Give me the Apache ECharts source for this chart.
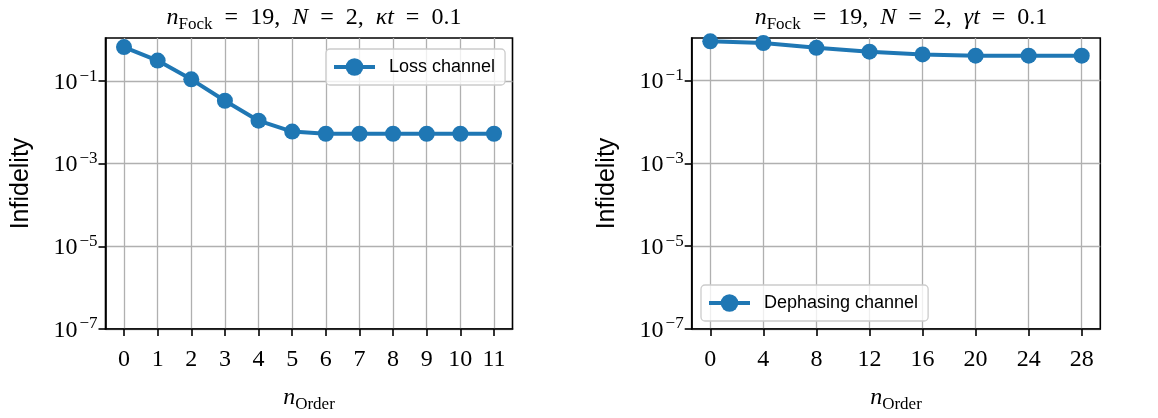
<!DOCTYPE html>
<html>
<head>
<meta charset="utf-8">
<script src="https://cdn.jsdelivr.net/npm/echarts@6/dist/echarts.min.js"></script>
<style>
  html, body { margin: 0; padding: 0; background: #fff; }
  #chart { width: 1158px; height: 418px; }
</style>
</head>
<body>
<div id="chart"></div>
<script>
// 左图：损耗通道
const lossOrders = [0, 1, 2, 3, 4, 5, 6, 7, 8, 9, 10, 11]
const lossInfidelity = [0.665, 0.313, 0.11, 0.0333, 0.011, 0.0060, 0.0053, 0.0053, 0.0053, 0.0053, 0.0053, 0.0053]
// 右图：退相位通道
const dephOrders = [0, 4, 8, 12, 16, 20, 24, 28]
const dephInfidelity = [0.89, 0.81, 0.62, 0.50, 0.43, 0.40, 0.40, 0.40]
// 坐标轴刻度
const lossTicks = [0, 1, 2, 3, 4, 5, 6, 7, 8, 9, 10, 11]
const dephTicks = [0, 4, 8, 12, 16, 20, 24, 28]
const yTicks = [1e-7, 1e-5, 1e-3, 1e-1]
const legendNames = ['Loss channel', 'Dephasing channel']

const blue = '#1f77b4'
const serif = 'Liberation Serif'
const sans = 'Liberation Sans'

const chart = echarts.init(document.getElementById('chart'))

// 数学公式样式（上下标）
const mathRich = {
  i: { fontFamily: serif, fontStyle: 'italic', fontWeight: 'normal', fontSize: 24, lineHeight: 30, verticalAlign: 'middle', color: '#000' },
  r: { fontFamily: serif, fontWeight: 'normal', fontSize: 24, lineHeight: 30, verticalAlign: 'middle', color: '#000' },
  sub: { fontFamily: serif, fontWeight: 'normal', fontSize: 17, lineHeight: 15, verticalAlign: 'bottom', color: '#000' }
}

const eq = '\u2002=\u2002'
const xName = '{i|n}{sub|Order}'

const makeX = (idx, min, max, ticks) => ({
  type: 'value',
  gridIndex: idx,
  min,
  max,
  name: xName,
  nameLocation: 'middle',
  nameGap: 54,
  nameTextStyle: { rich: mathRich },
  axisLine: { show: true, onZero: false, lineStyle: { color: '#000', width: 1.6 } },
  axisTick: { show: true, inside: false, length: 7, customValues: ticks, lineStyle: { color: '#000', width: 1.6 } },
  axisLabel: {
    customValues: ticks,
    margin: 19,
    fontFamily: serif,
    fontSize: 24,
    color: '#000'
  },
  splitLine: { show: true, lineStyle: { color: '#b0b0b0', width: 1.3 } }
})

const makeY = (idx, max) => ({
  type: 'log',
  gridIndex: idx,
  min: 1e-7,
  max,
  interval: 2,
  name: 'Infidelity',
  nameLocation: 'middle',
  nameGap: 72,
  nameTextStyle: { fontFamily: sans, fontSize: 25, color: '#000' },
  axisLine: { show: true, onZero: false, lineStyle: { color: '#000', width: 1.6 } },
  axisTick: { show: true, inside: false, length: 7, customValues: yTicks, lineStyle: { color: '#000', width: 1.6 } },
  axisLabel: {
    customValues: yTicks,
    margin: 8,
    padding: [3, 0, 0, 0],
    formatter: (v) => {
      const e = Math.round(Math.log10(v))
      return '{b|10}{s|' + (e < 0 ? '\u2212' : '') + Math.abs(e) + '}'
    },
    rich: {
      b: { fontFamily: serif, fontSize: 24, lineHeight: 30, verticalAlign: 'middle', color: '#000' },
      s: { fontFamily: serif, fontSize: 17, lineHeight: 14, verticalAlign: 'top', color: '#000', padding: [0, 0, 0, 2] }
    }
  },
  splitLine: { show: true, lineStyle: { color: '#b0b0b0', width: 1.3 } }
})

const makeLegend = (name, left, top) => ({
  data: [name],
  left,
  top,
  orient: 'vertical',
  padding: [9, 10, 9, 6],
  itemWidth: 41,
  itemHeight: 22,
  lineStyle: { width: 4 },
  backgroundColor: 'rgba(255,255,255,0.8)',
  borderColor: '#cccccc',
  borderWidth: 1.3,
  borderRadius: 4,
  textStyle: { fontFamily: sans, fontSize: 18, color: '#000', padding: [0, 0, 0, 9] }
})

const makeSeries = (name, idx, xs, ys) => ({
  name,
  type: 'line',
  xAxisIndex: idx,
  yAxisIndex: idx,
  data: xs.map((x, i) => [x, ys[i]]),
  symbol: 'circle',
  symbolSize: 16,
  lineStyle: { color: blue, width: 4 },
  itemStyle: { color: blue }
})

const option = {
  animation: false,
  backgroundColor: '#fff',
  title: [
    {
      text: '{i|n}{sub|Fock}{r|' + eq + '19,  }{i|N}{r|' + eq + '2,  }{i|\u03bat}{r|' + eq + '0.1}',
      left: 309,
      top: -2,
      textAlign: 'center',
      textStyle: { fontWeight: 'normal', rich: mathRich }
    },
    {
      text: '{i|n}{sub|Fock}{r|' + eq + '19,  }{i|N}{r|' + eq + '2,  }{i|\u03b3t}{r|' + eq + '0.1}',
      left: 896,
      top: -2,
      textAlign: 'center',
      textStyle: { fontWeight: 'normal', rich: mathRich }
    }
  ],
  legend: [
    makeLegend(legendNames[0], 326, 49),
    makeLegend(legendNames[1], 701, 285)
  ],
  grid: [
    { left: 105.5, top: 38, width: 407, height: 294.5, show: true, borderColor: '#000', borderWidth: 1.6, containLabel: false },
    { left: 691.7, top: 38, width: 408.6, height: 294.5, show: true, borderColor: '#000', borderWidth: 1.6, containLabel: false }
  ],
  xAxis: [
    makeX(0, -0.55, 11.55, lossTicks),
    makeX(1, -1.4, 29.4, dephTicks)
  ],
  yAxis: [
    makeY(0, 1.1),
    makeY(1, 1.07)
  ],
  series: [
    makeSeries(legendNames[0], 0, lossOrders, lossInfidelity),
    makeSeries(legendNames[1], 1, dephOrders, dephInfidelity)
  ]
}

chart.setOption(option)
</script>
</body>
</html>
